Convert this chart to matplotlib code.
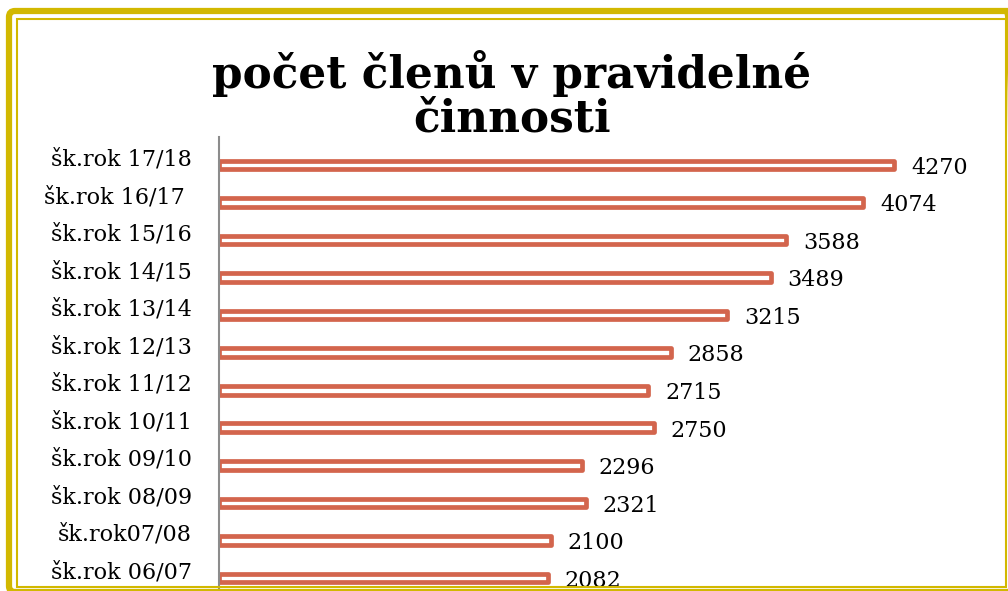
import matplotlib.pyplot as plt
import matplotlib.patches as patches
from matplotlib.transforms import ScaledTranslation, IdentityTransform

# --------------------------------------------------------------------------------------------------
# DATA (bottom to top, as drawn):
years = ["šk.rok 06/07", "šk.rok07/08", "šk.rok 08/09", "šk.rok 09/10", "šk.rok 10/11",
         "šk.rok 11/12", "šk.rok 12/13", "šk.rok 13/14", "šk.rok 14/15", "šk.rok 15/16",
         "šk.rok 16/17 ", "šk.rok 17/18"]
members = [2082, 2100, 2321, 2296, 2750, 2715, 2858, 3215, 3489, 3588, 4074, 4270]

TITLE_1 = "počet členů v pravidelné"
TITLE_2 = "činnosti"

BAR_COLOR = "#D3654D"
GOLD = "#D2B800"
W, H = 1008, 591

plt.rcParams["font.family"] = ["DejaVu Serif"]

fig = plt.figure(figsize=(W / 100, H / 100), dpi=100)

# --------------------------------------------------------------------------------------------------
# AXES: left edge = the grey vertical axis line
ax = fig.add_axes([218.5 / W, 0, (988 - 218.5) / W, (591 - 137) / H])
pos = list(range(len(years)))
ax.barh(pos, members, height=0.23, color="white", edgecolor=BAR_COLOR,
        linewidth=3.4, joinstyle="round")

ax.set_xlim(0, 769.5 / 0.1583)
ax.set_ylim(-0.346, 11.745)
ax.set_xticks([])
ax.set_yticks(pos)
ax.set_yticklabels(years, fontsize=16)
ax.tick_params(axis="y", length=0, pad=19)
# category labels sit a little above their bars
for lab in ax.get_yticklabels():
    lab.set_transform(lab.get_transform() + ScaledTranslation(0, 8 / 100, fig.dpi_scale_trans))

for s in ["top", "right", "bottom"]:
    ax.spines[s].set_visible(False)
ax.spines["left"].set_color("#8c8c8c")
ax.spines["left"].set_linewidth(1.5)

# value labels right of each bar
for y, v in zip(pos, members):
    ax.annotate(str(v), (v, y), xytext=(12, -2), textcoords="offset points",
                va="center", ha="left", fontsize=16)

# --------------------------------------------------------------------------------------------------
# TITLE:
fig.text(512 / W, 1 - 88 / H, TITLE_1, ha="center", va="baseline",
         fontsize=31.5, fontweight="bold")
fig.text(512 / W, 1 - 131 / H, TITLE_2, ha="center", va="baseline",
         fontsize=31.5, fontweight="bold")

# --------------------------------------------------------------------------------------------------
# GOLD DOUBLE FRAME, in pixels (origin bottom-left), cropped at right and bottom like the original
px = IdentityTransform()
outer = patches.FancyBboxPatch((9, H - 592), 1013 - 9, 592 - 11,
                               boxstyle="round,pad=0,rounding_size=6",
                               transform=px, fill=False,
                               edgecolor=GOLD, linewidth=4.5)
inner = patches.Rectangle((16.5, H - 586.5), 1006 - 16.5, 586.5 - 18.5,
                          transform=px, fill=False,
                          edgecolor=GOLD, linewidth=1.5)
fig.add_artist(outer)
fig.add_artist(inner)

fig.savefig("out.png", dpi=100)
